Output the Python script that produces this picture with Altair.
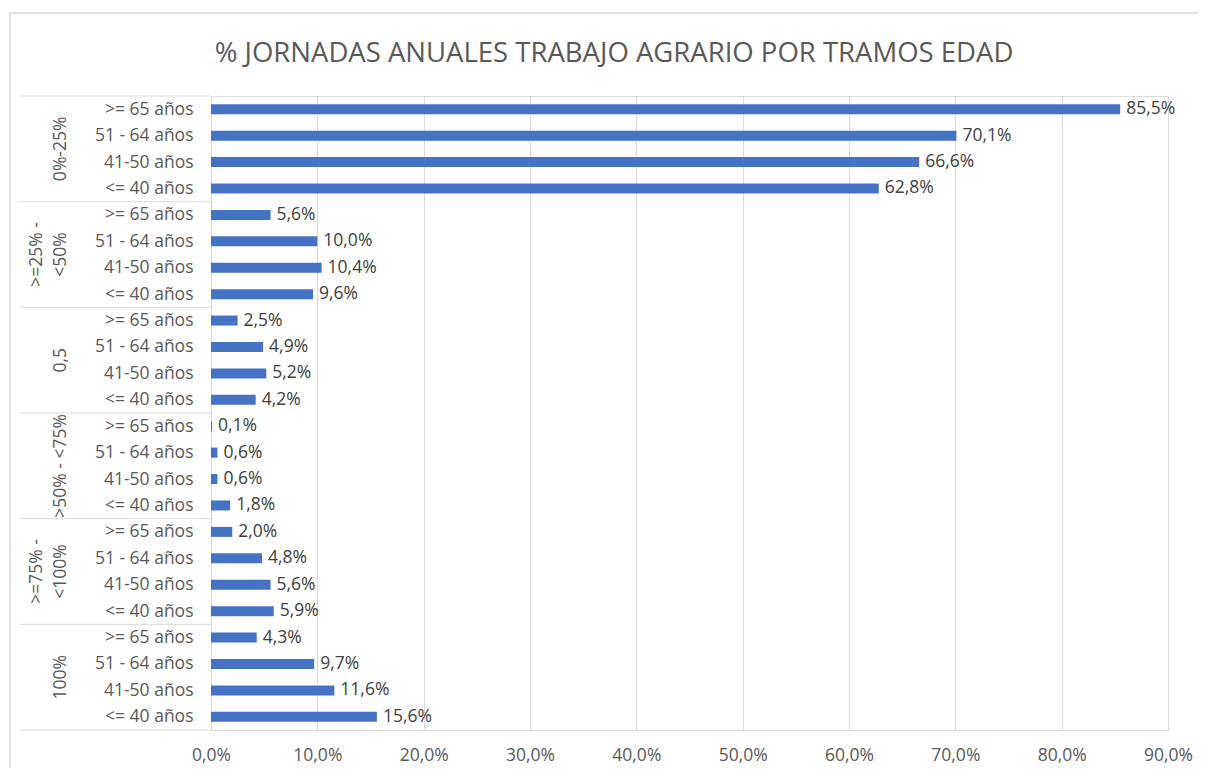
import json
import altair as alt
import pandas as pd

title_text = "% JORNADAS ANUALES TRABAJO AGRARIO POR TRAMOS EDAD"
groups = ["0%-25%", ">=25% -\n<50%", "0,5", ">50% - <75%", ">=75% -\n<100%", "100%"]
ages = [">= 65 años", "51 - 64 años", "41-50 años", "<= 40 años"]
values = [
    [85.5, 70.1, 66.6, 62.8],
    [5.6, 10.0, 10.4, 9.6],
    [2.5, 4.9, 5.2, 4.2],
    [0.1, 0.6, 0.6, 1.8],
    [2.0, 4.8, 5.6, 5.9],
    [4.3, 9.7, 11.6, 15.6],
]
x_ticks = [0, 10, 20, 30, 40, 50, 60, 70, 80, 90]

rows = []
for gi, g in enumerate(groups):
    for ai, a in enumerate(ages):
        rows.append({"row": gi * len(ages) + ai, "group": g, "age": a,
                     "v": values[gi][ai] / 100.0})
bars_df = pd.DataFrame(rows)
n_rows = len(rows)

line_rows = []
for gi, g in enumerate(groups):
    parts = g.split("\n")
    for li, p in enumerate(parts):
        line_rows.append({"center": gi * len(ages) + (len(ages) - 1) / 2,
                          "txt": p, "k": len(parts) - 1 - li})
grp_df = pd.DataFrame(line_rows)
sep_df = pd.DataFrame({"b": [gi * len(ages) - 0.5 for gi in range(len(groups) + 1)]})

FONT = "Open Sans"
GRAY = "#595959"
FS = 17.5
W, H = 957, 634

yscale = alt.Scale(domain=[-0.5, n_rows - 0.5], reverse=True, nice=False, zero=False, padding=0)
xscale = alt.Scale(domain=[0, 0.9], nice=False, zero=True, padding=0)

label_expr_y = json.dumps(ages) + "[datum.value % " + str(len(ages)) + "]"

xaxis = alt.Axis(values=[t / 100 for t in x_ticks], title=None, grid=True,
                 gridColor="#d9d9d9", gridWidth=1, domain=False, ticks=False,
                 labelExpr="replace(format(datum.value, '.1%'), '.', ',')",
                 labelFontSize=FS, labelColor=GRAY, labelFont=FONT,
                 labelPadding=16, labelOverlap=False, labelFlush=False,
                 labelAlign="center", labelBound=False)
yaxis = alt.Axis(values=list(range(n_rows)), title=None, grid=False,
                 domain=True, domainColor="#d9d9d9", ticks=False,
                 labelExpr=label_expr_y, labelFontSize=FS, labelColor=GRAY,
                 labelFont=FONT, labelPadding=18, labelBaseline="middle",
                 labelAlign="right", labelOverlap=False, labelFlush=False,
                 labelBound=False)

bars = alt.Chart(bars_df).mark_bar(color="#4472C4", size=10, orient="horizontal").encode(
    x=alt.X("v:Q", scale=xscale, axis=xaxis),
    y=alt.Y("row:Q", scale=yscale, axis=yaxis),
)

labels = alt.Chart(bars_df).transform_calculate(
    lab="replace(format(datum.v, '.1%'), '.', ',')"
).mark_text(align="left", baseline="middle", dx=6, fontSize=FS, font=FONT,
            color="#404040").encode(
    x=alt.X("v:Q", scale=xscale, axis=xaxis),
    y=alt.Y("row:Q", scale=yscale, axis=yaxis),
    text="lab:N",
)

grp_base = alt.Chart(grp_df).mark_text(
    angle=270, align="center", baseline="bottom", fontSize=FS, font=FONT, color=GRAY
)
grp_last = grp_base.transform_filter("datum.k == 0").encode(
    x=alt.value(-141), y=alt.Y("center:Q", scale=yscale, axis=yaxis), text="txt:N")
grp_prev = grp_base.transform_filter("datum.k == 1").encode(
    x=alt.value(-165), y=alt.Y("center:Q", scale=yscale, axis=yaxis), text="txt:N")

seps = alt.Chart(sep_df).mark_rule(color="#d9d9d9", strokeWidth=1).encode(
    x=alt.value(-191), x2=alt.value(0),
    y=alt.Y("b:Q", scale=yscale, axis=yaxis),
)

border = alt.Chart(alt.Data(values=[{"k": 1}])).mark_rect(
    fill=None, stroke="#d9d9d9", strokeWidth=1.5
).encode(
    x=alt.value(-201), x2=alt.value(W + 200),
    y=alt.value(-83), y2=alt.value(H + 200),
)

title = alt.Chart(alt.Data(values=[{"t": title_text}])).mark_text(
    align="center", baseline="alphabetic", fontSize=27.5, font=FONT, color=GRAY
).encode(
    x=alt.value(403), y=alt.value(-34), text="t:N",
)

chart = alt.layer(border, seps, bars, labels, grp_last, grp_prev, title).properties(
    width=W, height=H,
    autosize=alt.AutoSizeParams(type="none"),
    padding={"left": 203, "top": 88, "right": 30, "bottom": 38},
).configure_view(strokeWidth=0).configure(background="white")

chart.save("out.html", embed_options={"renderer": "svg", "actions": False})
